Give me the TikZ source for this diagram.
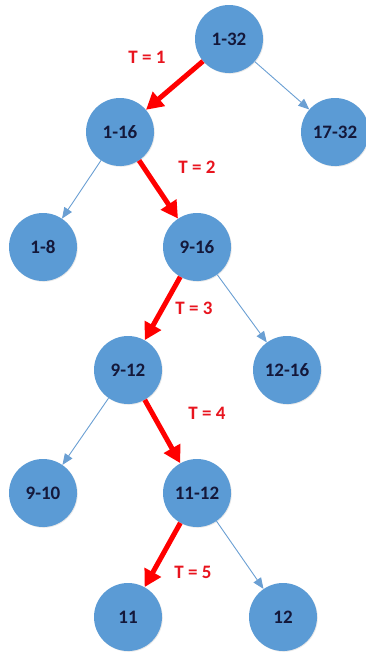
\documentclass[tikz,border=0pt]{standalone}
\usepackage{fontspec}
\setmainfont{Carlito}
\usetikzlibrary{arrows.meta,shadows}
\definecolor{nodeblue}{HTML}{5B9BD5}
\definecolor{edgeblue}{HTML}{6A9FD3}
\definecolor{navytext}{HTML}{14183A}
\definecolor{arrowred}{HTML}{FF0000}
\definecolor{labelred}{HTML}{E8141E}
\tikzset{
  tnode/.style={circle, fill=nodeblue, minimum size=68pt, inner sep=0pt,
    text=navytext, font=\fontsize{19}{21}\selectfont\bfseries,
    drop shadow={opacity=0.18, shadow xshift=0.8pt, shadow yshift=-0.8pt}},
  thin edge/.style={draw=edgeblue, line width=0.9pt,
    -{Triangle[length=11pt,width=9pt]}},
  red edge/.style={draw=arrowred, line width=5pt,
    -{Triangle[length=17pt,width=18pt]}},
  tlabel/.style={text=labelred, font=\fontsize{19}{21}\selectfont\bfseries}
}
\begin{document}
\begin{tikzpicture}[x=1pt,y=-1pt]
\useasboundingbox (0,0) rectangle (366,653);
\node[tnode] (n132) at (229,39) {1-32};
\node[tnode] (n116) at (120,132) {1-16};
\node[tnode] (n1732) at (335,132) {17-32};
\node[tnode] (n18) at (43,247) {1-8};
\node[tnode] (n916) at (197,247) {9-16};
\node[tnode] (n912) at (128,370) {9-12};
\node[tnode] (n1216) at (287,370) {12-16};
\node[tnode] (n910) at (43,493) {9-10};
\node[tnode] (n1112) at (197,493) {11-12};
\node[tnode] (n11) at (128,617) {11};
\node[tnode] (n12) at (283,617) {12};

\draw[red edge] (n132) -- (n116);
\draw[thin edge] (n132) -- (n1732);
\draw[thin edge] (n116) -- (n18);
\draw[red edge] (n116) -- (n916);
\draw[red edge] (n916) -- (n912);
\draw[thin edge] (n916) -- (n1216);
\draw[thin edge] (n912) -- (n910);
\draw[red edge] (n912) -- (n1112);
\draw[red edge] (n1112) -- (n11);
\draw[thin edge] (n1112) -- (n12);

\node[tlabel] (t1) at (147,57) {T = 1};
\node[tlabel] (t2) at (197,167) {T = 2};
\node[tlabel] (t3) at (194,308) {T = 3};
\node[tlabel] (t4) at (207,413) {T = 4};
\node[tlabel] (t5) at (193,572) {T = 5};
\end{tikzpicture}
\end{document}
